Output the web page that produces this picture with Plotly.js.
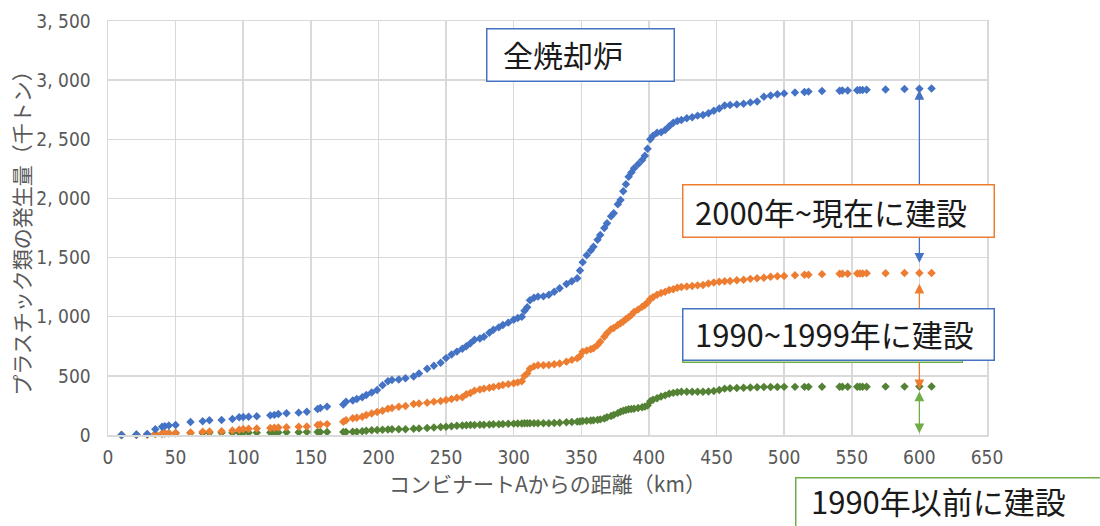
<!DOCTYPE html>
<html>
<head>
<meta charset="utf-8">
<script src="https://cdn.plot.ly/plotly-3.0.1.min.js"></script>
<style>html,body{margin:0;padding:0;background:#fff;}#chart{width:1100px;height:526px;}</style>
</head>
<body>
<div id="chart"></div>
<script>
// Distance from complex A (km)
const distanceKm = [10,21,29,35,40,42,45,50,61,70,75,84,92,97,100,104,110,120,123,126,132,141,147,155,157,162,
  174,176,181,184,188,191,195,199,203,207,210,215,220,226,230,236,241,246,250,254,258,262,265,268,271,275,278,282,285,289,292,296,
  300,303,306,308,310,312,315,318,322,326,330,334,339,343,347,349,351,354,357,359,362,364,367,369,372,374,377,379,381,383,385,387,389,392,395,397,399,
  401,403,406,409,412,415,418,421,424,428,432,436,440,444,448,452,456,460,465,470,475,480,485,490,495,
  500,508,515,518,528,541,543,547,554,556,558,561,575,589,600,609];
// All incinerators (cumulative, thousand t)
const allPlants = [0,5,8,48,70,75,80,85,110,116,124,127,135,150,152,155,158,166,170,177,183,189,197,220,228,240,
  258,282,292,305,320,338,360,380,420,455,465,470,480,495,520,560,585,610,650,680,705,730,750,775,805,815,830,865,890,910,930,950,
  975,990,1000,1050,1080,1140,1160,1170,1172,1185,1211,1240,1277,1300,1325,1390,1460,1520,1560,1592,1650,1691,1750,1790,1850,1874,1950,1987,2060,2120,2184,2220,2255,2290,2325,2360,2420,
  2500,2530,2556,2560,2578,2610,2640,2655,2663,2677,2686,2700,2705,2720,2742,2760,2785,2790,2795,2800,2812,2820,2860,2870,2880,
  2888,2895,2900,2903,2908,2911,2912,2913,2915,2916,2917,2918,2921,2925,2927,2930];
// Built up to 1999 (cumulative)
const builtTo1999 = [0,3,5,10,12,14,15,18,22,28,30,32,38,45,50,52,55,60,62,64,65,70,72,85,88,92,
  112,125,141,145,155,169,182,195,205,222,228,238,245,262,266,272,282,288,296,305,315,320,345,355,375,385,392,400,405,415,423,430,
  437,445,455,500,520,560,580,590,590,592,598,605,620,635,648,665,704,715,725,733,760,789,830,860,895,905,930,944,960,980,995,1015,1040,1060,1085,1099,1120,
  1150,1165,1185,1200,1210,1225,1232,1245,1252,1256,1260,1265,1268,1280,1290,1296,1300,1302,1308,1312,1320,1325,1330,1338,1342,
  1345,1350,1354,1355,1360,1363,1363,1364,1366,1366,1366,1367,1368,1369,1370,1370];
// Built before 1990 (cumulative)
const builtBefore1990 = [0,3,5,8,10,12,14,15,16,17,18,18,19,20,20,20,20,21,22,22,23,24,25,25,25,25,
  26,26,27,28,32,36,40,43,45,47,48,48,49,52,56,60,64,68,70,74,78,80,82,84,85,86,86,88,90,91,93,95,
  96,97,98,99,99,100,100,100,100,100,101,103,107,110,113,115,118,120,122,125,128,132,140,150,160,170,185,197,205,212,218,220,222,228,235,240,250,
  285,298,310,325,335,348,356,362,366,366,366,366,366,368,372,380,392,395,398,400,402,404,405,406,406,
  407,407,407,407,408,408,408,408,408,408,408,408,409,409,410,410];

const xTickVals = [0,50,100,150,200,250,300,350,400,450,500,550,600,650];
const yTickVals = [0,500,1000,1500,2000,2500,3000,3500];
const yTickText = ['0','500','1, 000','1, 500','2, 000','2, 500','3, 000','3, 500'];

const seriesNames = ['全焼却炉','1999年以前に建設','1990年以前に建設'];
const labelTexts = ['全焼却炉','2000年~現在に建設','1990~1999年に建設','1990年以前に建設'];

const blue = '#4472C4', orange = '#ED7D31', dgreen = '#548235', lgreen = '#70AD47';
const cjk = '"Noto Sans CJK JP", "Noto Sans", sans-serif';
const narrow = '"Liberation Sans Narrow", "DejaVu Sans Condensed", "Roboto", sans-serif';

function sc(y, color, name) {
  return {x: distanceKm, y: y, type: 'scatter', mode: 'markers', name: name,
    marker: {symbol: 'diamond', size: 6.5, color: color}, cliponaxis: false};
}
const traces = [sc(builtBefore1990, dgreen, seriesNames[2]), sc(builtTo1999, orange, seriesNames[1]), sc(allPlants, blue, seriesNames[0])];

// plot area: x 108..987, y 21..435
const L = 108, T = 21, W = 879, H = 414;
const px = v => (v - L) / W;
const py = v => (T + H - v) / H;

function arrow(y1, y2, color) {
  return {x: 600, y: y1, ax: 600, ay: y2, xref: 'x', yref: 'y', axref: 'x', ayref: 'y',
    text: '', showarrow: true, arrowside: 'end+start', arrowhead: 2, startarrowhead: 2,
    arrowsize: 1.5, startarrowsize: 1.5, arrowwidth: 1.3, arrowcolor: color, standoff: 0, startstandoff: 0};
}
function box(x, y, w, h, color) {
  return {xref: 'paper', yref: 'paper', x: px(x), y: py(y), xanchor: 'left', yanchor: 'top',
    text: ' ', showarrow: false, width: w - 3, height: h - 3, borderpad: 0, borderwidth: 1.5,
    bordercolor: color, bgcolor: '#ffffff'};
}
function label(x, y, t, s) {
  return {xref: 'paper', yref: 'paper', x: px(x), y: py(y), xanchor: 'left', yanchor: 'middle',
    text: t, showarrow: false, borderpad: 0, font: {family: cjk, size: s, color: '#1a1a1a'}};
}

const annotations = [
  arrow(1457, 2930, blue),
  arrow(386, 1291, orange),
  arrow(14, 380, lgreen),
  box(486, 28, 189, 54, blue),
  box(682, 184, 313, 54, orange),
  box(682, 312, 281, 51, lgreen),
  box(682, 308, 313, 53, blue),
  box(795, 477, 330, 62, lgreen),
  label(502, 54, labelTexts[0], 30),
  label(694, 211, labelTexts[1], 31),
  label(694, 333, labelTexts[2], 31),
  label(810, 500, labelTexts[3], 31)
];

const layout = {
  width: 1100, height: 526,
  margin: {l: L, r: 1100 - L - W, t: T, b: 526 - T - H},
  paper_bgcolor: '#ffffff', plot_bgcolor: '#ffffff',
  showlegend: false,
  xaxis: {range: [0, 650], tickvals: xTickVals, showgrid: true, gridcolor: '#d9d9d9', gridwidth: 1.5,
    zeroline: false, showline: true, linecolor: '#d9d9d9', linewidth: 1.5, mirror: true,
    ticks: '', ticklabelstandoff: 5,
    tickfont: {family: narrow, size: 19, color: '#595959'},
    title: {text: 'コンビナートAからの距離（km）', standoff: 6, font: {family: cjk, size: 21, color: '#595959'}}},
  yaxis: {range: [0, 3500], tickvals: yTickVals, ticktext: yTickText, showgrid: true, gridcolor: '#d9d9d9', gridwidth: 1.5,
    zeroline: false, showline: true, linecolor: '#d9d9d9', linewidth: 1.5, mirror: true,
    ticks: '', ticklabelstandoff: 12,
    tickfont: {family: narrow, size: 19, color: '#595959'},
    title: {text: 'プラスチック類の発生量（千トン）', standoff: 0, font: {family: cjk, size: 21, color: '#595959'}}},
  annotations: annotations
};

Plotly.newPlot('chart', traces, layout, {staticPlot: true, displayModeBar: false});
</script>
</body>
</html>
